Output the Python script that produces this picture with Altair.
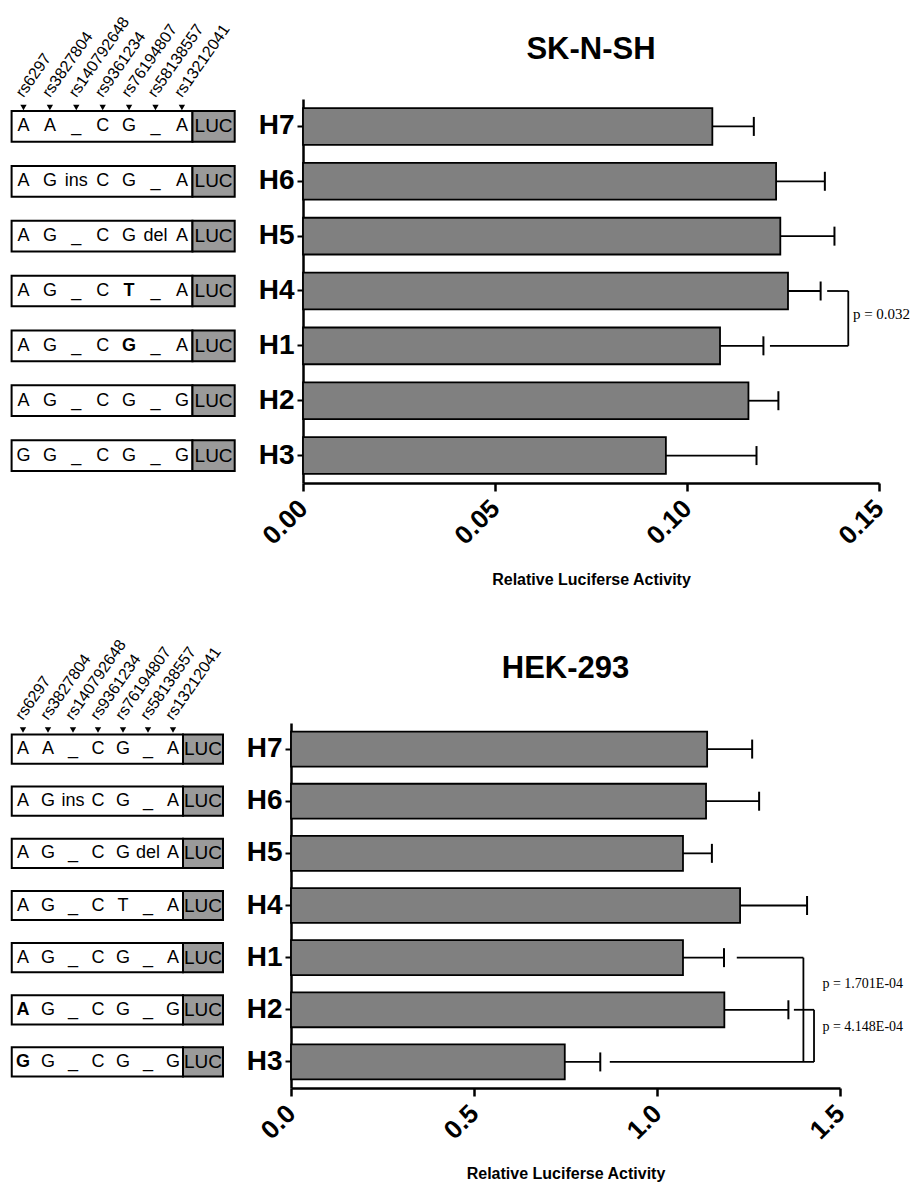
import altair as alt
import pandas as pd

# ---------------- data ----------------
haps = ["H7", "H6", "H5", "H4", "H1", "H2", "H3"]
snps = ["rs6297", "rs3827804", "rs140792648", "rs9361234",
        "rs76194807", "rs58138557", "rs13212041"]
alleles = {
    "H7": ["A", "A", "_", "C", "G", "_", "A"],
    "H6": ["A", "G", "ins", "C", "G", "_", "A"],
    "H5": ["A", "G", "_", "C", "G", "del", "A"],
    "H4": ["A", "G", "_", "C", "T", "_", "A"],
    "H1": ["A", "G", "_", "C", "G", "_", "A"],
    "H2": ["A", "G", "_", "C", "G", "_", "G"],
    "H3": ["G", "G", "_", "C", "G", "_", "G"],
}
# SK-N-SH
sk_mean = [0.1066, 0.1232, 0.1243, 0.1263, 0.1086, 0.1160, 0.0945]
sk_sem = [0.0108, 0.0127, 0.0141, 0.0085, 0.0113, 0.0078, 0.0236]
sk_bold = [("H4", 4), ("H1", 4)]
sk_brackets = [  # (hap_from, hap_to, x_from, x_to)
    ("H4", "H4", 0.1365, 0.1420),
    ("H1", "H1", 0.1216, 0.1420),
    ("H4", "H1", 0.1420, 0.1420),
]
sk_plabels = [("p = 0.032", 0.1432, "H4", 23)]
# HEK-293
hek_mean = [1.137, 1.134, 1.071, 1.227, 1.071, 1.184, 0.748]
hek_sem = [0.123, 0.145, 0.079, 0.183, 0.112, 0.175, 0.097]
hek_bold = [("H2", 0), ("H3", 0)]
hek_brackets = [
    ("H1", "H1", 1.218, 1.400),
    ("H3", "H3", 0.871, 1.429),
    ("H1", "H3", 1.400, 1.400),
    ("H2", "H2", 1.374, 1.429),
    ("H2", "H3", 1.429, 1.429),
]
hek_plabels = [("p = 1.701E-04", 1.452, "H2", -26),
               ("p = 4.148E-04", 1.452, "H3", -35)]

SANS = "Liberation Sans"
SERIF = "Liberation Serif"
XTITLE = "Relative Luciferse Activity"

# box geometry in slot units
BOX_L, BOX_M, BOX_R, LUC_C = -0.45, 6.4, 8.0, 7.2


def panel(name, means, sems, bolds, brackets, plabels, pfont, xmax, ticks,
          fmt, bar_range, dia_range, width, height, title_off, tpad):
    ys = alt.Scale(domain=haps, paddingInner=0.33, paddingOuter=0.165)
    yaxis = alt.Axis(title=None, offset=-bar_range[0], labelFont=SANS,
                     labelFontWeight="bold", labelFontSize=28, labelColor="black",
                     labelPadding=3, tickSize=6, tickWidth=2, tickColor="black",
                     domainWidth=2.5, domainColor="black", grid=False)

    def Y(f="hap"):
        return alt.Y(f"{f}:N", scale=ys, axis=yaxis)

    xs = alt.Scale(domain=[0, xmax], range=bar_range, nice=False, zero=True)
    xaxis = alt.Axis(values=ticks, format=fmt, title=XTITLE, titleFont=SANS,
                     titleFontSize=16, titleFontWeight="bold", titleColor="black",
                     titlePadding=tpad, labelFont=SANS, labelFontWeight="bold",
                     labelFontSize=26, labelColor="black", labelAngle=315,
                     labelAlign="right", labelBaseline="middle", labelPadding=13,
                     tickSize=8, tickWidth=2.5, tickColor="black",
                     domainWidth=2.5, domainColor="black", grid=False)

    def X(f):
        return alt.X(f"{f}:Q", scale=xs, axis=xaxis)

    ds = alt.Scale(domain=[BOX_L, BOX_R], range=dia_range, nice=False, zero=False)

    def XD(f):
        return alt.X(f"{f}:Q", scale=ds, axis=None)

    bar_df = pd.DataFrame({"hap": haps, "mean": means,
                           "hi": [m + s for m, s in zip(means, sems)]})
    bars = alt.Chart(bar_df).mark_bar(fill="#808080", stroke="black",
                                      strokeWidth=1.8).encode(
        x=X("mean"), x2=alt.X2("zero"), y=Y()).transform_calculate(zero="0")
    err = alt.Chart(bar_df).mark_rule(color="black", strokeWidth=1.8).encode(
        x=X("mean"), x2=alt.X2("hi"), y=Y())
    cap = alt.Chart(bar_df).mark_tick(color="black", thickness=2, size=19,
                                      opacity=1).encode(x=X("hi"), y=Y())

    br_df = pd.DataFrame(brackets, columns=["hap", "hap2", "x1", "x2"])
    br = alt.Chart(br_df).mark_rule(color="black", strokeWidth=1.8).encode(
        x=X("x1"), x2=alt.X2("x2"), y=Y(), y2=alt.Y2("hap2:N"))

    layers = [bars, err, cap, br]
    for txt, xv, hp, off in plabels:
        pdf = pd.DataFrame({"hap": [hp], "v": [xv], "t": [txt]})
        layers.append(alt.Chart(pdf).mark_text(
            font=SERIF, fontSize=pfont, align="left", baseline="middle",
            color="black", dy=off).encode(x=X("v"), y=Y(), text="t:N"))

    tdf = pd.DataFrame({"hap": [haps[0]], "v": [xmax / 2], "t": [name]})
    layers.append(alt.Chart(tdf).mark_text(
        font=SANS, fontSize=31, fontWeight="bold", align="center",
        baseline="middle", color="black", yOffset=title_off).encode(
        x=X("v"), y=Y(), text="t:N"))
    bar_layer = alt.layer(*layers)

    # ---- haplotype diagram ----
    box_df = pd.DataFrame({"hap": haps, "l": BOX_L, "m": BOX_M, "r": BOX_R})
    white = alt.Chart(box_df).mark_bar(fill="white", stroke="black",
                                       strokeWidth=2, size=height / 7 * 0.56
                                       ).encode(x=XD("l"), x2=alt.X2("m"), y=Y())
    luc = alt.Chart(box_df).mark_bar(fill="#9a9a9a", stroke="black",
                                     strokeWidth=2, size=height / 7 * 0.56
                                     ).encode(x=XD("m"), x2=alt.X2("r"), y=Y())
    luc_df = pd.DataFrame({"hap": haps, "s": LUC_C, "t": "LUC"})
    luc_t = alt.Chart(luc_df).mark_text(font=SANS, fontSize=19, color="black",
                                        baseline="middle").encode(
        x=XD("s"), y=Y(), text="t:N")

    rows = []
    for h in haps:
        for i, a in enumerate(alleles[h]):
            rows.append({"hap": h, "s": i, "t": a,
                         "b": 1 if (h, i) in bolds else 0})
    let_df = pd.DataFrame(rows)
    let_n = alt.Chart(let_df).transform_filter("datum.b == 0").mark_text(
        font=SANS, fontSize=18, color="black", baseline="middle").encode(
        x=XD("s"), y=Y(), text="t:N")
    let_b = alt.Chart(let_df).transform_filter("datum.b == 1").mark_text(
        font=SANS, fontSize=18, fontWeight="bold", color="black",
        baseline="middle").encode(x=XD("s"), y=Y(), text="t:N")

    snp_df = pd.DataFrame({"hap": haps[0], "s": list(range(len(snps))),
                           "t": snps})
    tri = alt.Chart(snp_df).mark_point(shape="triangle-down", filled=True,
                                       size=40, color="black", opacity=1,
                                       yOffset=-19).encode(x=XD("s"), y=Y())
    lab = alt.Chart(snp_df).mark_text(font=SANS, fontSize=16, color="black",
                                      angle=305, align="left",
                                      baseline="middle", xOffset=-4,
                                      yOffset=-31).encode(
        x=XD("s"), y=Y(), text="t:N")
    dia_layer = alt.layer(white, luc, luc_t, let_n, let_b, tri, lab)

    return alt.layer(dia_layer, bar_layer).resolve_scale(
        x="independent").properties(width=width, height=height)


top = panel("SK-N-SH", sk_mean, sk_sem, sk_bold, sk_brackets, sk_plabels, 15,
            0.15, [0, 0.05, 0.10, 0.15], ".2f",
            [293, 869], [1.6, 224.7], 869, 384, -76, 23)
bottom = panel("HEK-293", hek_mean, hek_sem, hek_bold, hek_brackets,
               hek_plabels, 14, 1.5, [0, 0.5, 1.0, 1.5], ".1f",
               [281, 830], [1.75, 213], 869, 365, -80, 22)

chart = alt.vconcat(top, bottom, spacing=48).properties(
    padding={"left": 2, "top": 6, "right": 0, "bottom": 0}
).configure_view(stroke=None)

chart.save("out.html", embed_options={"renderer": "svg", "actions": False})
